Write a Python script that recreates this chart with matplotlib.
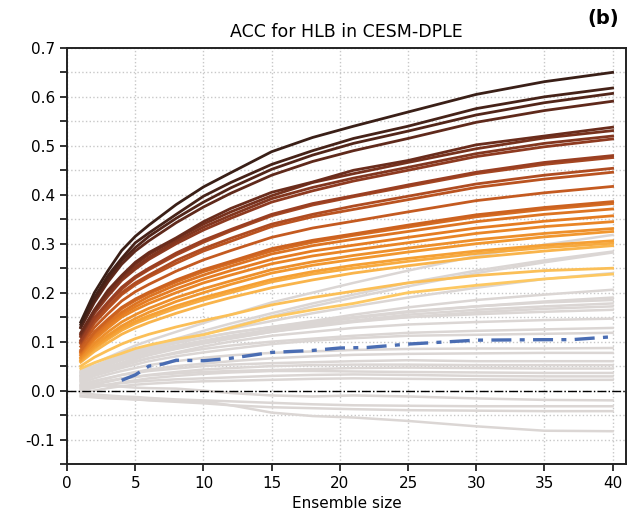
import numpy as np
import matplotlib
matplotlib.use("Agg")
import matplotlib.pyplot as plt
from matplotlib.colors import LinearSegmentedColormap
from matplotlib.ticker import MultipleLocator

plt.rcParams['axes.unicode_minus'] = False

ens_size = [1, 2, 3, 4, 5, 6, 8, 10, 12, 15, 18, 21, 25, 30, 35, 40]

# coloured curves (significant ACC), top to bottom
acc_colored = [
    [0.140, 0.200, 0.245, 0.286, 0.315, 0.338, 0.380, 0.416, 0.445, 0.488, 0.517, 0.540, 0.569, 0.605, 0.631, 0.650],
    [0.135, 0.190, 0.235, 0.270, 0.302, 0.322, 0.360, 0.397, 0.425, 0.462, 0.490, 0.515, 0.540, 0.576, 0.600, 0.618],
    [0.130, 0.185, 0.228, 0.265, 0.292, 0.315, 0.352, 0.385, 0.414, 0.452, 0.481, 0.505, 0.530, 0.563, 0.588, 0.607],
    [0.128, 0.180, 0.222, 0.258, 0.285, 0.306, 0.343, 0.375, 0.403, 0.440, 0.468, 0.490, 0.515, 0.548, 0.572, 0.591],
    [0.118, 0.165, 0.205, 0.235, 0.262, 0.282, 0.312, 0.345, 0.372, 0.405, 0.426, 0.450, 0.470, 0.502, 0.520, 0.538],
    [0.115, 0.163, 0.200, 0.232, 0.258, 0.278, 0.310, 0.340, 0.365, 0.398, 0.425, 0.443, 0.466, 0.494, 0.516, 0.531],
    [0.112, 0.160, 0.196, 0.228, 0.252, 0.272, 0.305, 0.334, 0.358, 0.392, 0.415, 0.434, 0.456, 0.484, 0.505, 0.520],
    [0.110, 0.158, 0.193, 0.225, 0.248, 0.268, 0.300, 0.328, 0.352, 0.385, 0.408, 0.428, 0.450, 0.478, 0.498, 0.514],
    [0.103, 0.149, 0.181, 0.211, 0.233, 0.250, 0.281, 0.307, 0.329, 0.360, 0.382, 0.398, 0.420, 0.446, 0.466, 0.480],
    [0.100, 0.145, 0.178, 0.207, 0.230, 0.247, 0.277, 0.303, 0.326, 0.357, 0.379, 0.396, 0.417, 0.443, 0.462, 0.476],
    [0.098, 0.140, 0.171, 0.200, 0.220, 0.236, 0.266, 0.290, 0.311, 0.340, 0.360, 0.377, 0.397, 0.422, 0.440, 0.454],
    [0.096, 0.138, 0.168, 0.196, 0.216, 0.232, 0.260, 0.285, 0.305, 0.335, 0.355, 0.370, 0.390, 0.415, 0.432, 0.446],
    [0.090, 0.129, 0.157, 0.183, 0.202, 0.217, 0.244, 0.267, 0.286, 0.313, 0.332, 0.346, 0.365, 0.388, 0.404, 0.417],
    [0.083, 0.120, 0.146, 0.170, 0.187, 0.201, 0.226, 0.247, 0.264, 0.290, 0.307, 0.320, 0.338, 0.359, 0.374, 0.386],
    [0.080, 0.117, 0.143, 0.167, 0.184, 0.198, 0.222, 0.243, 0.260, 0.285, 0.303, 0.317, 0.334, 0.355, 0.370, 0.382],
    [0.078, 0.112, 0.138, 0.160, 0.177, 0.192, 0.216, 0.236, 0.254, 0.279, 0.296, 0.309, 0.325, 0.345, 0.360, 0.371],
    [0.075, 0.108, 0.133, 0.155, 0.171, 0.185, 0.208, 0.228, 0.245, 0.268, 0.285, 0.297, 0.313, 0.332, 0.346, 0.357],
    [0.072, 0.104, 0.128, 0.150, 0.165, 0.178, 0.200, 0.220, 0.236, 0.259, 0.275, 0.287, 0.302, 0.321, 0.335, 0.345],
    [0.068, 0.097, 0.120, 0.140, 0.155, 0.168, 0.190, 0.208, 0.224, 0.247, 0.263, 0.276, 0.291, 0.308, 0.321, 0.331],
    [0.065, 0.092, 0.113, 0.132, 0.147, 0.160, 0.182, 0.200, 0.217, 0.240, 0.256, 0.268, 0.283, 0.300, 0.314, 0.325],
    [0.062, 0.088, 0.108, 0.127, 0.141, 0.153, 0.173, 0.190, 0.205, 0.227, 0.243, 0.256, 0.270, 0.285, 0.297, 0.306],
    [0.060, 0.085, 0.105, 0.123, 0.137, 0.148, 0.168, 0.185, 0.200, 0.222, 0.238, 0.250, 0.264, 0.280, 0.292, 0.301],
    [0.058, 0.080, 0.098, 0.115, 0.128, 0.139, 0.158, 0.175, 0.190, 0.210, 0.226, 0.240, 0.255, 0.272, 0.285, 0.296],
    [0.050, 0.068, 0.082, 0.095, 0.106, 0.115, 0.130, 0.143, 0.155, 0.175, 0.190, 0.203, 0.220, 0.235, 0.245, 0.250],
    [0.045, 0.057, 0.067, 0.076, 0.086, 0.093, 0.105, 0.114, 0.128, 0.150, 0.165, 0.178, 0.200, 0.215, 0.228, 0.238],
]

# grey curves (not significant)
acc_grey = [
    [0.040, 0.056, 0.068, 0.080, 0.092, 0.102, 0.120, 0.138, 0.155, 0.180, 0.200, 0.220, 0.245, 0.275, 0.298, 0.318],
    [0.038, 0.050, 0.060, 0.070, 0.080, 0.090, 0.106, 0.122, 0.137, 0.158, 0.178, 0.196, 0.220, 0.245, 0.266, 0.284],
    [0.035, 0.048, 0.058, 0.067, 0.077, 0.086, 0.100, 0.115, 0.130, 0.152, 0.172, 0.190, 0.213, 0.240, 0.262, 0.282],
    [0.036, 0.050, 0.062, 0.072, 0.082, 0.090, 0.104, 0.116, 0.126, 0.142, 0.158, 0.172, 0.190, 0.210, 0.228, 0.240],
    [0.030, 0.045, 0.055, 0.065, 0.075, 0.083, 0.097, 0.108, 0.118, 0.130, 0.142, 0.155, 0.170, 0.185, 0.196, 0.206],
    [0.028, 0.042, 0.052, 0.062, 0.070, 0.078, 0.090, 0.100, 0.110, 0.125, 0.137, 0.148, 0.160, 0.172, 0.182, 0.190],
    [0.032, 0.048, 0.060, 0.070, 0.078, 0.086, 0.098, 0.108, 0.118, 0.130, 0.140, 0.150, 0.162, 0.172, 0.180, 0.185],
    [0.025, 0.038, 0.048, 0.057, 0.066, 0.074, 0.086, 0.097, 0.107, 0.120, 0.132, 0.143, 0.155, 0.165, 0.172, 0.178],
    [0.022, 0.035, 0.045, 0.055, 0.064, 0.072, 0.085, 0.096, 0.106, 0.120, 0.130, 0.140, 0.150, 0.160, 0.167, 0.172],
    [0.030, 0.044, 0.055, 0.064, 0.072, 0.080, 0.092, 0.102, 0.112, 0.125, 0.135, 0.142, 0.150, 0.156, 0.161, 0.165],
    [0.020, 0.032, 0.042, 0.050, 0.058, 0.066, 0.078, 0.090, 0.100, 0.112, 0.120, 0.128, 0.135, 0.140, 0.144, 0.147],
    [0.025, 0.035, 0.045, 0.052, 0.060, 0.066, 0.076, 0.085, 0.092, 0.100, 0.106, 0.112, 0.118, 0.122, 0.125, 0.128],
    [0.018, 0.030, 0.038, 0.046, 0.053, 0.060, 0.070, 0.078, 0.085, 0.095, 0.102, 0.107, 0.112, 0.114, 0.116, 0.118],
    [0.015, 0.025, 0.033, 0.040, 0.046, 0.052, 0.060, 0.067, 0.072, 0.077, 0.080, 0.083, 0.085, 0.086, 0.086, 0.087],
    [0.010, 0.018, 0.025, 0.032, 0.038, 0.043, 0.050, 0.055, 0.060, 0.066, 0.070, 0.073, 0.075, 0.076, 0.077, 0.077],
    [0.012, 0.020, 0.026, 0.032, 0.036, 0.040, 0.045, 0.050, 0.053, 0.056, 0.058, 0.060, 0.062, 0.060, 0.060, 0.060],
    [0.005, 0.012, 0.018, 0.024, 0.028, 0.032, 0.038, 0.043, 0.046, 0.050, 0.052, 0.053, 0.053, 0.052, 0.052, 0.052],
    [0.008, 0.014, 0.020, 0.025, 0.028, 0.031, 0.035, 0.038, 0.040, 0.042, 0.044, 0.046, 0.047, 0.046, 0.045, 0.045],
    [0.000, 0.006, 0.012, 0.017, 0.021, 0.025, 0.030, 0.034, 0.037, 0.040, 0.040, 0.039, 0.038, 0.037, 0.036, 0.036],
    [0.003, 0.008, 0.012, 0.015, 0.018, 0.020, 0.023, 0.025, 0.027, 0.030, 0.032, 0.033, 0.032, 0.030, 0.029, 0.029],
    [-0.005, 0.000, 0.005, 0.009, 0.012, 0.014, 0.017, 0.019, 0.020, 0.022, 0.024, 0.025, 0.024, 0.023, 0.022, 0.022],
    [0.010, 0.012, 0.010, 0.008, 0.006, 0.005, 0.004, 0.000, -0.005, -0.010, -0.012, -0.010, -0.012, -0.016, -0.019, -0.020],
    [-0.005, -0.008, -0.010, -0.012, -0.013, -0.015, -0.018, -0.020, -0.022, -0.025, -0.028, -0.030, -0.031, -0.032, -0.032, -0.032],
    [-0.010, -0.012, -0.014, -0.016, -0.018, -0.020, -0.023, -0.026, -0.030, -0.034, -0.036, -0.038, -0.040, -0.041, -0.042, -0.042],
    [-0.012, -0.014, -0.016, -0.017, -0.018, -0.019, -0.020, -0.022, -0.030, -0.045, -0.052, -0.055, -0.062, -0.073, -0.082, -0.083],
]

# blue dash-dot curve
blue_size = [4, 5, 6, 7, 8, 10, 12, 15, 18, 20, 22, 25, 30, 35, 37, 40]
blue_acc = [0.021, 0.032, 0.050, 0.054, 0.062, 0.061, 0.066, 0.078, 0.082, 0.087, 0.088, 0.095, 0.103, 0.104, 0.104, 0.110]

cmap = LinearSegmentedColormap.from_list(
    "brown_yellow", ["#3a1f17", "#6b2c1c", "#9a3f22", "#c45a20", "#e57c22", "#f5a033", "#fdc862"])

fig = plt.figure(figsize=(6.39, 5.15), dpi=100)
ax = fig.add_axes([0.105, 0.099, 0.875, 0.808])

for vals in acc_grey:
    ax.plot(ens_size, vals, color="#dbd6d4", lw=1.8, zorder=2)

n = len(acc_colored)
for i, vals in enumerate(acc_colored[::-1]):
    ax.plot(ens_size, vals, color=cmap(1 - i / (n - 1)), lw=2.0, zorder=3)

ax.plot(blue_size, blue_acc, color="#4a6db3", lw=2.4, ls=(0, (6, 2.5, 1.5, 2.5)), zorder=4)
ax.axhline(0, color="black", lw=1.0, ls="-.", zorder=5)

ax.set_xlim(0, 41)
ax.set_ylim(-0.15, 0.7)
ax.set_xticks(np.arange(0, 41, 5))
ax.set_yticks(np.arange(-0.1, 0.71, 0.1))
ax.set_yticklabels(["-0.1", "0.0", "0.1", "0.2", "0.3", "0.4", "0.5", "0.6", "0.7"])
ax.yaxis.set_minor_locator(MultipleLocator(0.05))
ax.tick_params(which="both", labelsize=11, width=1.3, length=5, color="#222222")
ax.grid(which="both", ls=":", color="#c8c8c8", lw=1.0, zorder=0)
ax.grid(which="minor", axis="x", visible=False)
for sp in ax.spines.values():
    sp.set_linewidth(1.4)
    sp.set_color("#222222")

ax.set_title("ACC for HLB in CESM-DPLE", fontsize=12.5, pad=8)
ax.set_xlabel("Ensemble size", fontsize=11, labelpad=4)
fig.text(0.944, 0.965, "(b)", fontsize=14, fontweight="bold", ha="center", va="center")

fig.savefig("out.png", dpi=100)
